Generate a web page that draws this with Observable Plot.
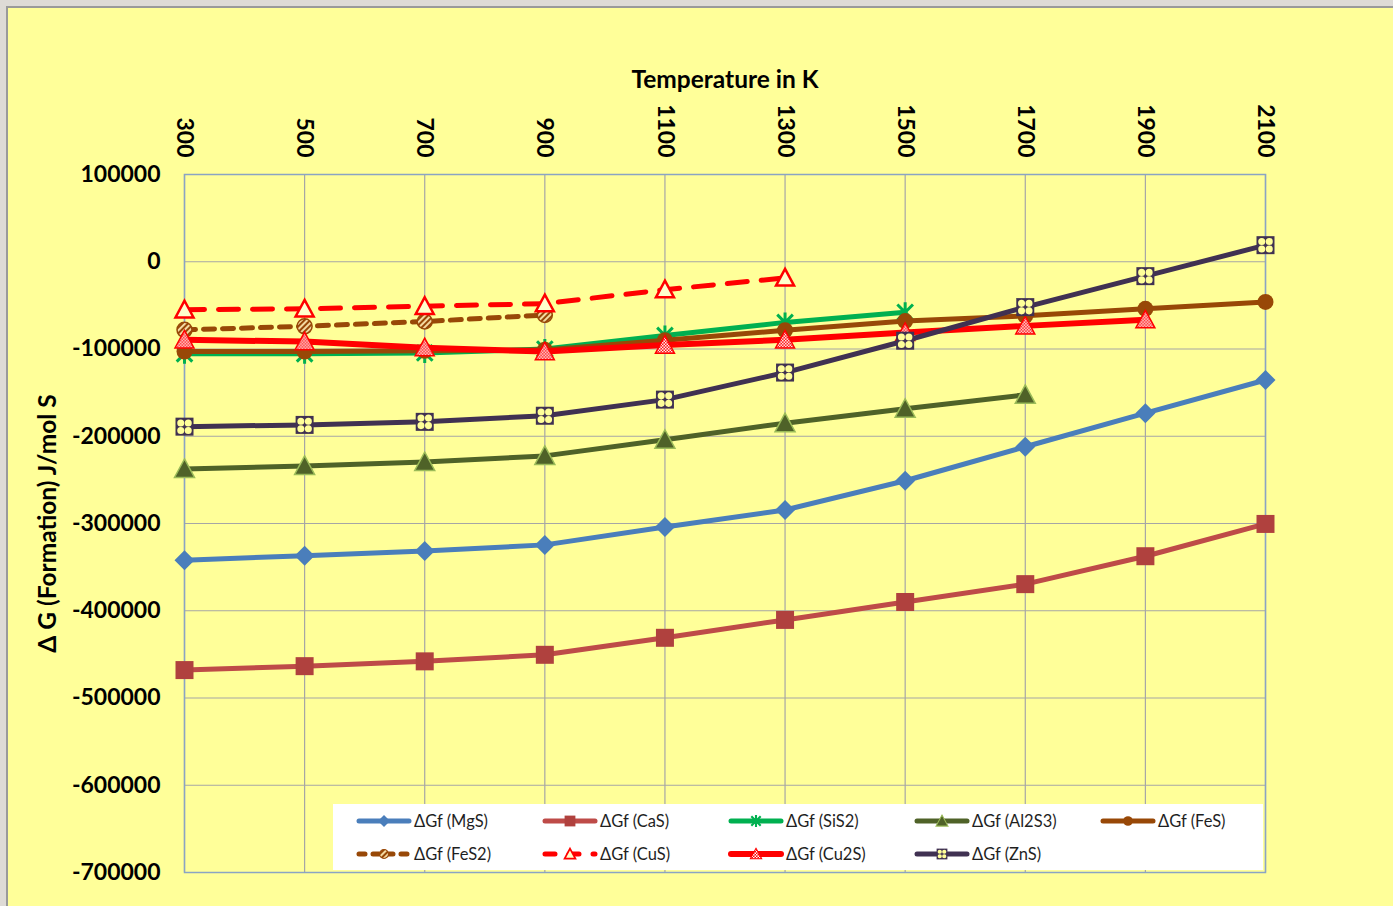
<!DOCTYPE html>
<html>
<head>
<meta charset="utf-8">
<script src="https://cdn.jsdelivr.net/npm/d3@7"></script>
<script src="https://cdn.jsdelivr.net/npm/@observablehq/plot@0.6"></script>
<style>
  html, body { margin: 0; padding: 0; width: 1393px; height: 906px; overflow: hidden; background: #dedbd6; }
  #panel { position: absolute; left: 6px; top: 6px; width: 1400px; height: 920px; background: #ffff99; border: 2px solid #9a9a9a; }
  #chart { position: absolute; left: 0; top: 0; }
  #legend { position: absolute; left: 333px; top: 804px; width: 930px; height: 66px; background: #ffffff; font-family: Lato, sans-serif; font-size: 16.5px; color: #1f1f1f; }
  .item { position: absolute; display: flex; align-items: center; height: 22px; }
  .item svg { display: block; }
  .item span { margin-left: 2px; }
</style>
</head>
<body>
<div id="panel"></div>
<div id="chart"></div>
<div id="legend"></div>
<script>
// ---------- data ----------
const temps = [300, 500, 700, 900, 1100, 1300, 1500, 1700, 1900, 2100];
const yTicks = [100000, 0, -100000, -200000, -300000, -400000, -500000, -600000, -700000];

const MgS   = [-342000, -337000, -331500, -324500, -304000, -284500, -251000, -212000, -173500, -135500];
const CaS   = [-468000, -463500, -458000, -450500, -431000, -410500, -390000, -369500, -337500, -300500];
const SiS2  = [-105500, -105500, -104500, -100000, -84500, -69500, -58000];
const Al2S3 = [-237500, -234000, -229500, -222500, -204000, -185000, -168500, -152500];
const FeS   = [-103000, -103000, -102000, -101000, -90000, -78500, -68000, -62000, -54000, -46000];
const FeS2  = [-78000, -74000, -68500, -61000];
const CuS   = [-55000, -54000, -51000, -48000, -32000, -18500];
const Cu2S  = [-89500, -91500, -98500, -103000, -95500, -89500, -81000, -73500, -66500];
const ZnS   = [-189000, -187000, -183500, -176500, -158000, -127000, -90500, -52000, -16500, 19000];

const seriesNames = ["ΔGf (MgS)", "ΔGf (CaS)", "ΔGf (SiS2)", "ΔGf (Al2S3)", "ΔGf (FeS)",
                     "ΔGf (FeS2)", "ΔGf (CuS)", "ΔGf (Cu2S)", "ΔGf (ZnS)"];
const seriesValues = [MgS, CaS, SiS2, Al2S3, FeS, FeS2, CuS, Cu2S, ZnS];

// ---------- custom symbols (r = half size) ----------
const R = size => Math.sqrt(size / Math.PI);
const square = {draw(c, s) { const r = R(s); c.rect(-r, -r, 2 * r, 2 * r); }};
const diamond = {draw(c, s) { const r = R(s); c.moveTo(0, -r); c.lineTo(r, 0); c.lineTo(0, r); c.lineTo(-r, 0); c.closePath(); }};
const triangle = {draw(c, s) { const r = R(s); c.moveTo(0, -r); c.lineTo(r, r * 0.85); c.lineTo(-r, r * 0.85); c.closePath(); }};
const star = {draw(c, s) { const r = R(s), d = r * 0.78; c.moveTo(-d, -d); c.lineTo(d, d); c.moveTo(d, -d); c.lineTo(-d, d); c.moveTo(0, -r); c.lineTo(0, r); }};
const fourDots = {draw(c, s) { const r = R(s), o = r * 0.5, rr = r * 0.47;
  for (const [dx, dy] of [[-o, -o], [o, -o], [-o, o], [o, o]]) { c.moveTo(dx + rr, dy); c.arc(dx, dy, rr, 0, 2 * Math.PI); } }};

// ---------- styles per series ----------
const styles = [
  {color: "#4a7ebb", width: 5, dots: [{symbol: diamond, r: 10, fill: "#4a7ebb"}]},
  {color: "#be4b48", width: 5, dots: [{symbol: square, r: 9, fill: "#b0413e"}]},
  {color: "#00b050", width: 5, dots: [{symbol: star, r: 10, fill: "none", stroke: "#00b050", sw: 3}]},
  {color: "#4f6228", width: 5, dots: [{symbol: triangle, r: 10, fill: "#4f6228", stroke: "#9bbb59", sw: 1.5}]},
  {color: "#984807", width: 5, dots: [{symbol: "circle", r: 8, fill: "#984807"}]},
  {color: "#984807", width: 5, dash: "11,8", dots: [{symbol: "circle", r: 7.5, fill: "url(#hatch)", stroke: "#984807", sw: 1.5}]},
  {color: "#ff0000", width: 5, dash: "20,14", dots: [{symbol: triangle, r: 9, fill: "#ffffcc", stroke: "#ff0000", sw: 2.5}]},
  {color: "#ff0000", width: 6, dots: [{symbol: triangle, r: 9.5, fill: "url(#checker)", stroke: "#ff0000", sw: 1.5}]},
  {color: "#403152", width: 5, dots: [{symbol: square, r: 9, fill: "#403152"}, {symbol: fourDots, r: 7.5, fill: "#ffff99"}]}
];

const rows = seriesValues.map((vals, k) => vals.map((v, i) => ({T: temps[i], v, name: seriesNames[k]})));

const marks = [
  Plot.gridX(temps, {stroke: "#a6a6a6", strokeOpacity: 1, strokeWidth: 1.2}),
  Plot.gridY(yTicks, {stroke: "#a6a6a6", strokeOpacity: 1, strokeWidth: 1.2}),
  Plot.frame({stroke: "#8aa4c4", strokeWidth: 1.5}),
  Plot.axisX({anchor: "top", ticks: temps, tickSize: 0, tickPadding: 17, tickRotate: 90,
    tickFormat: d => String(d), fontSize: 23, fontWeight: "bold", fill: "#000", label: null}),
  Plot.axisX({anchor: "top", ticks: [], tickSize: 0, fontSize: 24.5, fontWeight: "bold", fill: "#000",
    label: "Temperature in K", labelAnchor: "center", labelArrow: "none", labelOffset: 104}),
  Plot.axisY({anchor: "left", ticks: yTicks, tickSize: 0, tickPadding: 24,
    tickFormat: d => String(d), fontSize: 23, fontWeight: "bold", fill: "#000", label: null}),
  Plot.axisY({anchor: "left", ticks: [], tickSize: 0, fontSize: 24.5, fontWeight: "bold", fill: "#000",
    label: "Δ G (Formation) J/mol S", labelAnchor: "center", labelArrow: "none", labelOffset: 146})
];
rows.forEach((data, k) => {
  const st = styles[k];
  marks.push(Plot.line(data, {x: "T", y: "v", stroke: st.color, strokeWidth: st.width,
    strokeDasharray: st.dash, strokeLinejoin: "round"}));
  st.dots.forEach(d => marks.push(Plot.dot(data, {x: "T", y: "v", symbol: d.symbol, r: d.r,
    fill: d.fill, stroke: d.stroke || "none", strokeWidth: d.sw || 0})));
});

const chart = Plot.plot({
  width: 1393, height: 906,
  marginLeft: 184, marginRight: 128, marginTop: 174, marginBottom: 34,
  style: {background: "transparent", fontFamily: "Lato, sans-serif", overflow: "visible"},
  x: {type: "linear", domain: [300, 2100]},
  y: {domain: [-700000, 100000]},
  marks
});

// patterns used by hatched / checkered markers
const defs = d3.select(chart).insert("defs", ":first-child");
const hatch = defs.append("pattern").attr("id", "hatch").attr("patternUnits", "userSpaceOnUse")
  .attr("width", 4).attr("height", 4).attr("patternTransform", "rotate(45)");
hatch.append("rect").attr("width", 4).attr("height", 4).attr("fill", "#f3d9a0");
hatch.append("rect").attr("width", 2).attr("height", 4).attr("fill", "#984807");
const checker = defs.append("pattern").attr("id", "checker").attr("patternUnits", "userSpaceOnUse")
  .attr("width", 3).attr("height", 3);
checker.append("rect").attr("width", 3).attr("height", 3).attr("fill", "#ff0000");
checker.append("rect").attr("width", 1.5).attr("height", 1.5).attr("fill", "#ffffff");
checker.append("rect").attr("x", 1.5).attr("y", 1.5).attr("width", 1.5).attr("height", 1.5).attr("fill", "#ffffff");

document.getElementById("chart").appendChild(chart);

// ---------- legend ----------
const legend = d3.select("#legend");
seriesNames.forEach((name, k) => {
  const st = styles[k];
  const col = k % 5, row = Math.floor(k / 5);
  const item = legend.append("div").attr("class", "item")
    .style("left", (23 + col * 186) + "px").style("top", (6 + row * 33) + "px");
  const svg = item.append("svg").attr("width", 56).attr("height", 22);
  svg.append("line").attr("x1", 3).attr("x2", 53).attr("y1", 11).attr("y2", 11)
    .attr("stroke", st.color).attr("stroke-width", st.width)
    .attr("stroke-linecap", "round")
    .attr("stroke-dasharray", st.dash ? (k === 5 ? "6,8" : "10,14") : null);
  st.dots.forEach(d => {
    const sym = typeof d.symbol === "string" ? d3.symbolCircle : d.symbol;
    const rr = d.r * 0.6;
    svg.append("path").attr("transform", "translate(28,11)")
      .attr("d", d3.symbol(sym, rr * rr * Math.PI)())
      .attr("fill", d.fill).attr("stroke", d.stroke || "none").attr("stroke-width", (d.sw || 0) * 0.7);
  });
  item.append("span").text(name);
});
</script>
</body>
</html>
